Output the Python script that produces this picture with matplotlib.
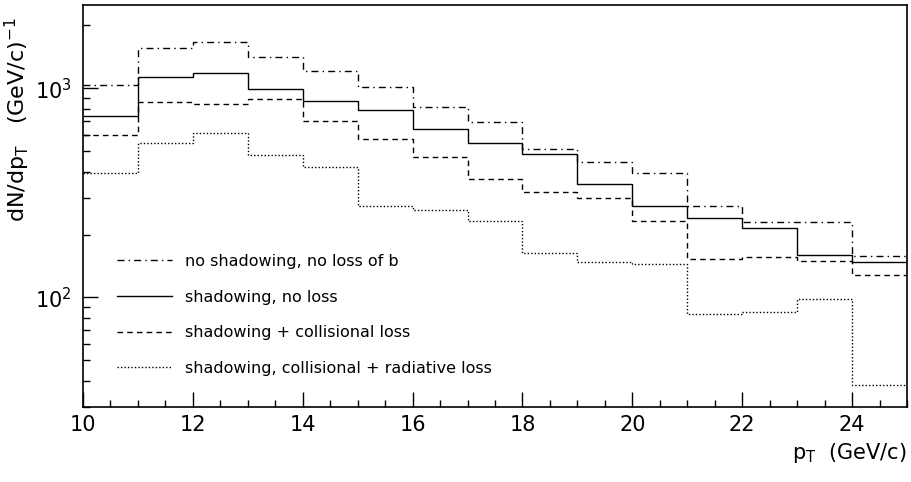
import numpy as np
import matplotlib.pyplot as plt
from matplotlib.ticker import LogLocator, NullFormatter, MultipleLocator

plt.rcParams['font.family'] = ['DejaVu Sans']
plt.rcParams['mathtext.default'] = 'regular'

# bin edges in pT (GeV/c)
edges = np.arange(10, 26, 1)

# dN/dpT per bin
no_shadow = [1037, 1563, 1670, 1406, 1210, 1011, 816, 688, 511, 442, 392, 274, 230, 230, 158]
shadow = [736, 1136, 1180, 996, 872, 787, 637, 549, 483, 350, 275, 241, 214, 159, 148]
shadow_coll = [596, 863, 844, 886, 700, 570, 469, 367, 320, 300, 232, 153, 156, 149, 128]
shadow_coll_rad = [392, 549, 609, 481, 419, 273, 262, 232, 164, 147, 144, 83, 85, 98, 38]

labels = ['no shadowing, no loss of b',
          'shadowing, no loss',
          'shadowing + collisional loss',
          'shadowing, collisional + radiative loss']

fig = plt.figure(figsize=(9.12, 4.82), dpi=100)
ax = fig.add_axes([0.091, 0.156, 0.9035, 0.8326])

ax.stairs(no_shadow, edges, baseline=None, color='black', lw=1, ls=(0, (5, 3, 1, 3)), label=labels[0])
ax.stairs(shadow, edges, baseline=None, color='black', lw=1, ls='-', label=labels[1])
ax.stairs(shadow_coll, edges, baseline=None, color='black', lw=1, ls=(0, (4, 3)), label=labels[2])
ax.stairs(shadow_coll_rad, edges, baseline=None, color='black', lw=1, ls=(0, (1, 1.5)), label=labels[3])

ax.set_yscale('log')
ax.set_xlim(10, 25)
ax.set_ylim(30, 2490)

ax.xaxis.set_major_locator(MultipleLocator(2))
ax.xaxis.set_minor_locator(MultipleLocator(0.5))
ax.yaxis.set_major_locator(LogLocator(base=10, numticks=10))
ax.yaxis.set_minor_locator(LogLocator(base=10, subs=np.arange(2, 10), numticks=10))
ax.yaxis.set_minor_formatter(NullFormatter())

ax.tick_params(axis='both', which='major', direction='in', length=11, width=1,
               labelsize=15, top=False, right=False, color='black')
ax.tick_params(axis='both', which='minor', direction='in', length=5, width=1,
               top=False, right=False)
ax.tick_params(axis='x', pad=6)
ax.tick_params(axis='y', pad=8)
for s in ax.spines.values():
    s.set_linewidth(1.2)

ax.set_xlabel(r'$p_{T}$  (GeV/c)', fontsize=15, loc='right', labelpad=4)
ax.set_ylabel(r'$dN/dp_{T}$   $(GeV/c)^{-1}$', fontsize=16)
ax.yaxis.set_label_coords(-0.062, 0.717)

ax.legend(loc='center left', bbox_to_anchor=(0.024, 0.229), frameon=False,
          fontsize=11.5, handlelength=3.45, labelspacing=1.3, handletextpad=0.8)

fig.savefig('out.png', dpi=100)
